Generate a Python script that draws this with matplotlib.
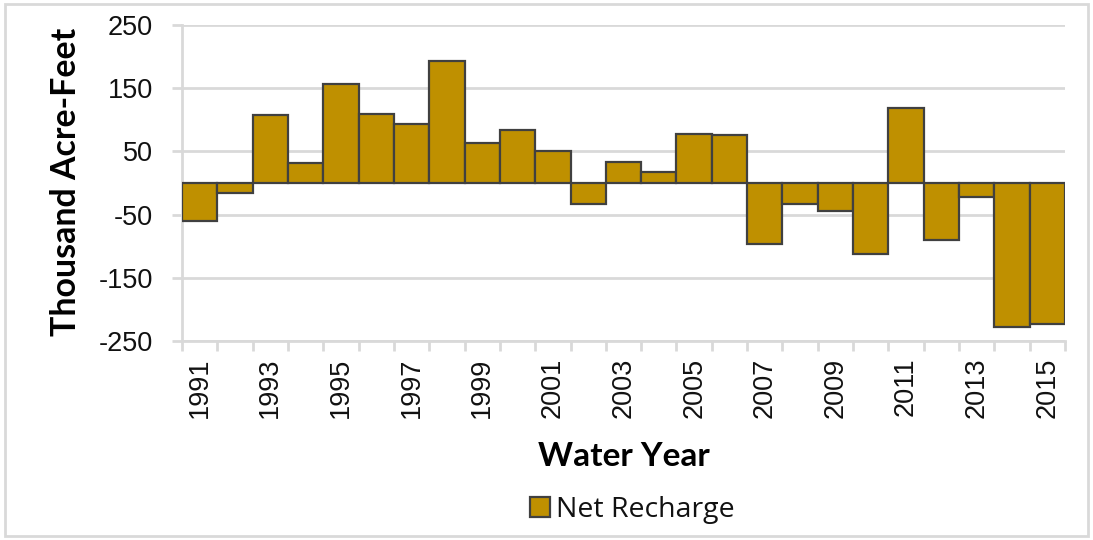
import matplotlib
matplotlib.use("Agg")
import matplotlib.pyplot as plt
from matplotlib.patches import Rectangle, Patch
import numpy as np

years = list(range(1991, 2016))
net_recharge = [-60, -16, 108, 32, 157, 109, 93, 193, 63, 84, 51, -33, 33, 17, 78, 76,
                -97, -33, -44, -112, 119, -90, -22, -228, -223]
yticks = [-250, -150, -50, 50, 150, 250]
label_years = [y for y in years if y % 2 == 1]

plt.rcParams['font.family'] = ['Open Sans', 'DejaVu Sans']
tick_font = ['Liberation Sans', 'DejaVu Sans']

fig = plt.figure(figsize=(10.93, 5.40), dpi=100)
ax = fig.add_axes([182/1093, 1 - 341/540, (1065-182)/1093, (341-25)/540])

grid_c = '#D9D9D9'
text_c = '#111111'
x = np.arange(len(years))
ax.bar(x, net_recharge, width=1.0, color='#BF9000', edgecolor='#404040', linewidth=1.6, zorder=3)

ax.set_xlim(-0.5, len(years) - 0.5)
ax.set_ylim(-250, 250)
ax.set_yticks(yticks)
ax.set_yticklabels([str(v) for v in yticks], fontsize=19.5, color=text_c, family=tick_font)
ax.yaxis.grid(True, color=grid_c, linewidth=2, zorder=0)
ax.tick_params(axis='y', length=7, width=2, color=grid_c, pad=14)

ax.set_xticks([years.index(y) for y in label_years])
ax.set_xticklabels([str(y) for y in label_years], rotation=90, fontsize=19.5, color=text_c,
                   family=tick_font)
ax.set_xticks(np.arange(-0.5, len(years), 1.0), minor=True)
ax.tick_params(axis='x', which='major', length=0, pad=12)
ax.tick_params(axis='x', which='minor', length=7, width=2, color=grid_c)

for s in ['top', 'right']:
    ax.spines[s].set_visible(False)
for s in ['left', 'bottom']:
    ax.spines[s].set_color(grid_c)
    ax.spines[s].set_linewidth(2)

ax.set_ylabel('Thousand Acre-Feet', fontsize=24.4, fontweight='bold', color='black',
              family=['Lato', 'DejaVu Sans'])
ax.yaxis.set_label_coords(-0.113, 0.503)
ax.set_xlabel('Water Year', fontsize=24, fontweight='bold', color='black',
              family=['Lato', 'DejaVu Sans'])
ax.xaxis.set_label_coords(0.5, -0.32)

handle = Patch(facecolor='#BF9000', edgecolor='#404040', linewidth=1.6)
fig.legend([handle], ['Net Recharge'], loc='center', bbox_to_anchor=(632/1093, 1 - 510/540),
           frameon=False, fontsize=20.5, handlelength=0.7, handleheight=0.7, handletextpad=0.2,
           labelcolor=text_c)

fig.patches.append(Rectangle((5/1093, 4/540), 1083/1093, 532/540, transform=fig.transFigure,
                             fill=False, edgecolor=grid_c, linewidth=2))

fig.savefig('out.png', dpi=100)
